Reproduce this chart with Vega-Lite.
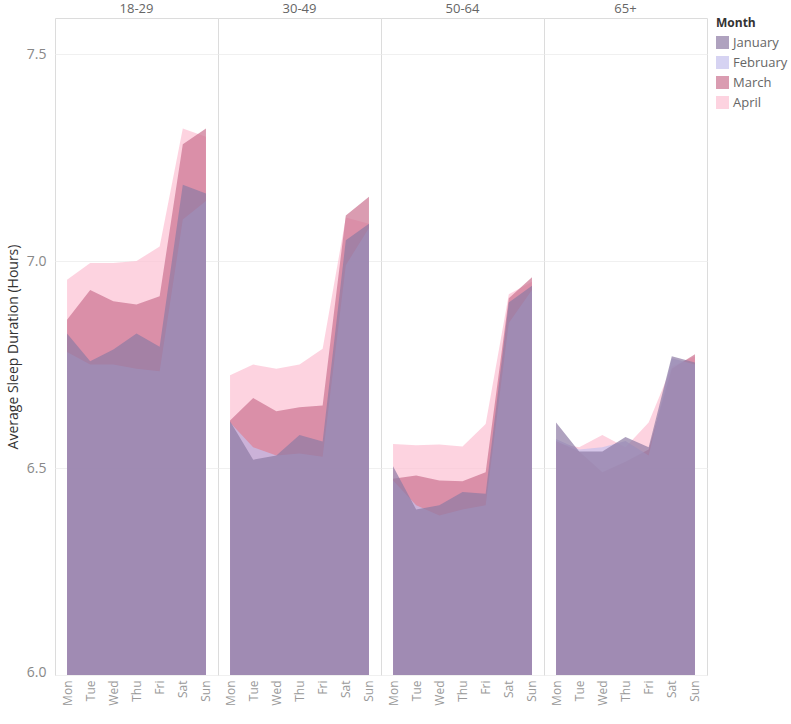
{
  "$schema": "https://vega.github.io/schema/vega-lite/v6.json",
  "padding": {"left": 6, "top": 3, "right": 0, "bottom": 0},
  "bounds": "flush",
  "data": {"values": [
    {"Age":"18-29","Month":"April","Day":"Mon","Sleep":6.955},
    {"Age":"18-29","Month":"April","Day":"Tue","Sleep":6.995},
    {"Age":"18-29","Month":"April","Day":"Wed","Sleep":6.995},
    {"Age":"18-29","Month":"April","Day":"Thu","Sleep":7.0},
    {"Age":"18-29","Month":"April","Day":"Fri","Sleep":7.035},
    {"Age":"18-29","Month":"April","Day":"Sat","Sleep":7.32},
    {"Age":"18-29","Month":"April","Day":"Sun","Sleep":7.30},
    {"Age":"18-29","Month":"March","Day":"Mon","Sleep":6.858},
    {"Age":"18-29","Month":"March","Day":"Tue","Sleep":6.93},
    {"Age":"18-29","Month":"March","Day":"Wed","Sleep":6.903},
    {"Age":"18-29","Month":"March","Day":"Thu","Sleep":6.895},
    {"Age":"18-29","Month":"March","Day":"Fri","Sleep":6.915},
    {"Age":"18-29","Month":"March","Day":"Sat","Sleep":7.282},
    {"Age":"18-29","Month":"March","Day":"Sun","Sleep":7.32},
    {"Age":"18-29","Month":"February","Day":"Mon","Sleep":6.78},
    {"Age":"18-29","Month":"February","Day":"Tue","Sleep":6.75},
    {"Age":"18-29","Month":"February","Day":"Wed","Sleep":6.75},
    {"Age":"18-29","Month":"February","Day":"Thu","Sleep":6.74},
    {"Age":"18-29","Month":"February","Day":"Fri","Sleep":6.734},
    {"Age":"18-29","Month":"February","Day":"Sat","Sleep":7.10},
    {"Age":"18-29","Month":"February","Day":"Sun","Sleep":7.145},
    {"Age":"18-29","Month":"January","Day":"Mon","Sleep":6.825},
    {"Age":"18-29","Month":"January","Day":"Tue","Sleep":6.758},
    {"Age":"18-29","Month":"January","Day":"Wed","Sleep":6.786},
    {"Age":"18-29","Month":"January","Day":"Thu","Sleep":6.825},
    {"Age":"18-29","Month":"January","Day":"Fri","Sleep":6.793},
    {"Age":"18-29","Month":"January","Day":"Sat","Sleep":7.184},
    {"Age":"18-29","Month":"January","Day":"Sun","Sleep":7.163},

    {"Age":"30-49","Month":"April","Day":"Mon","Sleep":6.724},
    {"Age":"30-49","Month":"April","Day":"Tue","Sleep":6.75},
    {"Age":"30-49","Month":"April","Day":"Wed","Sleep":6.74},
    {"Age":"30-49","Month":"April","Day":"Thu","Sleep":6.75},
    {"Age":"30-49","Month":"April","Day":"Fri","Sleep":6.788},
    {"Age":"30-49","Month":"April","Day":"Sat","Sleep":7.105},
    {"Age":"30-49","Month":"April","Day":"Sun","Sleep":7.09},
    {"Age":"30-49","Month":"March","Day":"Mon","Sleep":6.615},
    {"Age":"30-49","Month":"March","Day":"Tue","Sleep":6.669},
    {"Age":"30-49","Month":"March","Day":"Wed","Sleep":6.637},
    {"Age":"30-49","Month":"March","Day":"Thu","Sleep":6.647},
    {"Age":"30-49","Month":"March","Day":"Fri","Sleep":6.651},
    {"Age":"30-49","Month":"March","Day":"Sat","Sleep":7.11},
    {"Age":"30-49","Month":"March","Day":"Sun","Sleep":7.155},
    {"Age":"30-49","Month":"February","Day":"Mon","Sleep":6.61},
    {"Age":"30-49","Month":"February","Day":"Tue","Sleep":6.55},
    {"Age":"30-49","Month":"February","Day":"Wed","Sleep":6.53},
    {"Age":"30-49","Month":"February","Day":"Thu","Sleep":6.535},
    {"Age":"30-49","Month":"February","Day":"Fri","Sleep":6.527},
    {"Age":"30-49","Month":"February","Day":"Sat","Sleep":6.99},
    {"Age":"30-49","Month":"February","Day":"Sun","Sleep":7.08},
    {"Age":"30-49","Month":"January","Day":"Mon","Sleep":6.613},
    {"Age":"30-49","Month":"January","Day":"Tue","Sleep":6.52},
    {"Age":"30-49","Month":"January","Day":"Wed","Sleep":6.53},
    {"Age":"30-49","Month":"January","Day":"Thu","Sleep":6.58},
    {"Age":"30-49","Month":"January","Day":"Fri","Sleep":6.564},
    {"Age":"30-49","Month":"January","Day":"Sat","Sleep":7.05},
    {"Age":"30-49","Month":"January","Day":"Sun","Sleep":7.09},

    {"Age":"50-64","Month":"April","Day":"Mon","Sleep":6.558},
    {"Age":"50-64","Month":"April","Day":"Tue","Sleep":6.555},
    {"Age":"50-64","Month":"April","Day":"Wed","Sleep":6.557},
    {"Age":"50-64","Month":"April","Day":"Thu","Sleep":6.552},
    {"Age":"50-64","Month":"April","Day":"Fri","Sleep":6.606},
    {"Age":"50-64","Month":"April","Day":"Sat","Sleep":6.92},
    {"Age":"50-64","Month":"April","Day":"Sun","Sleep":6.95},
    {"Age":"50-64","Month":"March","Day":"Mon","Sleep":6.474},
    {"Age":"50-64","Month":"March","Day":"Tue","Sleep":6.482},
    {"Age":"50-64","Month":"March","Day":"Wed","Sleep":6.47},
    {"Age":"50-64","Month":"March","Day":"Thu","Sleep":6.468},
    {"Age":"50-64","Month":"March","Day":"Fri","Sleep":6.49},
    {"Age":"50-64","Month":"March","Day":"Sat","Sleep":6.91},
    {"Age":"50-64","Month":"March","Day":"Sun","Sleep":6.961},
    {"Age":"50-64","Month":"February","Day":"Mon","Sleep":6.47},
    {"Age":"50-64","Month":"February","Day":"Tue","Sleep":6.41},
    {"Age":"50-64","Month":"February","Day":"Wed","Sleep":6.385},
    {"Age":"50-64","Month":"February","Day":"Thu","Sleep":6.40},
    {"Age":"50-64","Month":"February","Day":"Fri","Sleep":6.41},
    {"Age":"50-64","Month":"February","Day":"Sat","Sleep":6.85},
    {"Age":"50-64","Month":"February","Day":"Sun","Sleep":6.93},
    {"Age":"50-64","Month":"January","Day":"Mon","Sleep":6.504},
    {"Age":"50-64","Month":"January","Day":"Tue","Sleep":6.40},
    {"Age":"50-64","Month":"January","Day":"Wed","Sleep":6.41},
    {"Age":"50-64","Month":"January","Day":"Thu","Sleep":6.442},
    {"Age":"50-64","Month":"January","Day":"Fri","Sleep":6.438},
    {"Age":"50-64","Month":"January","Day":"Sat","Sleep":6.90},
    {"Age":"50-64","Month":"January","Day":"Sun","Sleep":6.94},

    {"Age":"65+","Month":"April","Day":"Mon","Sleep":6.56},
    {"Age":"65+","Month":"April","Day":"Tue","Sleep":6.55},
    {"Age":"65+","Month":"April","Day":"Wed","Sleep":6.58},
    {"Age":"65+","Month":"April","Day":"Thu","Sleep":6.55},
    {"Age":"65+","Month":"April","Day":"Fri","Sleep":6.61},
    {"Age":"65+","Month":"April","Day":"Sat","Sleep":6.745},
    {"Age":"65+","Month":"April","Day":"Sun","Sleep":6.77},
    {"Age":"65+","Month":"March","Day":"Mon","Sleep":6.565},
    {"Age":"65+","Month":"March","Day":"Tue","Sleep":6.54},
    {"Age":"65+","Month":"March","Day":"Wed","Sleep":6.49},
    {"Age":"65+","Month":"March","Day":"Thu","Sleep":6.515},
    {"Age":"65+","Month":"March","Day":"Fri","Sleep":6.545},
    {"Age":"65+","Month":"March","Day":"Sat","Sleep":6.74},
    {"Age":"65+","Month":"March","Day":"Sun","Sleep":6.775},
    {"Age":"65+","Month":"February","Day":"Mon","Sleep":6.57},
    {"Age":"65+","Month":"February","Day":"Tue","Sleep":6.545},
    {"Age":"65+","Month":"February","Day":"Wed","Sleep":6.55},
    {"Age":"65+","Month":"February","Day":"Thu","Sleep":6.565},
    {"Age":"65+","Month":"February","Day":"Fri","Sleep":6.53},
    {"Age":"65+","Month":"February","Day":"Sat","Sleep":6.765},
    {"Age":"65+","Month":"February","Day":"Sun","Sleep":6.75},
    {"Age":"65+","Month":"January","Day":"Mon","Sleep":6.61},
    {"Age":"65+","Month":"January","Day":"Tue","Sleep":6.54},
    {"Age":"65+","Month":"January","Day":"Wed","Sleep":6.54},
    {"Age":"65+","Month":"January","Day":"Thu","Sleep":6.575},
    {"Age":"65+","Month":"January","Day":"Fri","Sleep":6.55},
    {"Age":"65+","Month":"January","Day":"Sat","Sleep":6.77},
    {"Age":"65+","Month":"January","Day":"Sun","Sleep":6.755}
  ]},
  "facet": {
    "column": {
      "field": "Age", "type": "nominal",
      "sort": ["18-29","30-49","50-64","65+"],
      "title": null,
      "header": {"labelFontSize": 13, "labelColor": "#666", "labelFont": "Open Sans", "labelPadding": 2}
    }
  },
  "spacing": 0,
  "spec": {
    "width": 163,
    "height": 657,
    "encoding": {
      "x": {
        "field": "Day", "type": "nominal",
        "sort": ["Mon","Tue","Wed","Thu","Fri","Sat","Sun"],
        "scale": {"type": "point", "padding": 0.52},
        "axis": {"title": null, "labelAngle": 270, "ticks": false, "domain": true, "domainColor": "#d4d4d4", "labelColor": "#999", "labelFontSize": 12, "labelPadding": 5, "grid": false, "labelFont": "Open Sans"}
      },
      "y": {
        "field": "Sleep", "type": "quantitative", "stack": null,
        "scale": {"domain": [6, 7.587], "nice": false, "zero": false},
        "axis": {"title": "Average Sleep Duration (Hours)", "values": [6, 6.5, 7, 7.5], "format": ".1f", "ticks": false, "domain": false, "gridColor": "#f0f0f0", "labelColor": "#888", "labelFontSize": 14, "labelPadding": 9, "labelFlush": true, "labelFlushOffset": 4, "labelFont": "Open Sans", "titleColor": "#333", "titleFontSize": 14, "titleFontWeight": "normal", "titleFont": "Open Sans", "titlePadding": 6}
      },
      "color": {
        "field": "Month", "type": "nominal",
        "scale": {"domain": ["January","February","March","April"], "range": ["#8d7aa4","#c4c0ec","#ca7290","#fcc0d3"]},
        "legend": {"title": "Month", "titleFontSize": 12, "titleFont": "Open Sans", "titleColor": "#333", "titleFontWeight": "bold", "titlePadding": 6, "labelFontSize": 13, "labelFont": "Open Sans", "labelColor": "#666", "labelOffset": 4, "symbolType": "square", "symbolSize": 169, "symbolOpacity": 0.7, "symbolStrokeWidth": 0, "rowPadding": 6, "offset": 8}
      }
    },
    "layer": [
      {"transform": [{"filter": "datum.Month === 'April'"}], "mark": {"type": "area", "opacity": 0.7, "clip": true}},
      {"transform": [{"filter": "datum.Month === 'March'"}], "mark": {"type": "area", "opacity": 0.7, "clip": true}},
      {"transform": [{"filter": "datum.Month === 'February'"}], "mark": {"type": "area", "opacity": 0.7, "clip": true}},
      {"transform": [{"filter": "datum.Month === 'January'"}], "mark": {"type": "area", "opacity": 0.7, "clip": true}}
    ]
  },
  "config": {
    "font": "Open Sans",
    "view": {"stroke": "#dcdcdc"}
  }
}
